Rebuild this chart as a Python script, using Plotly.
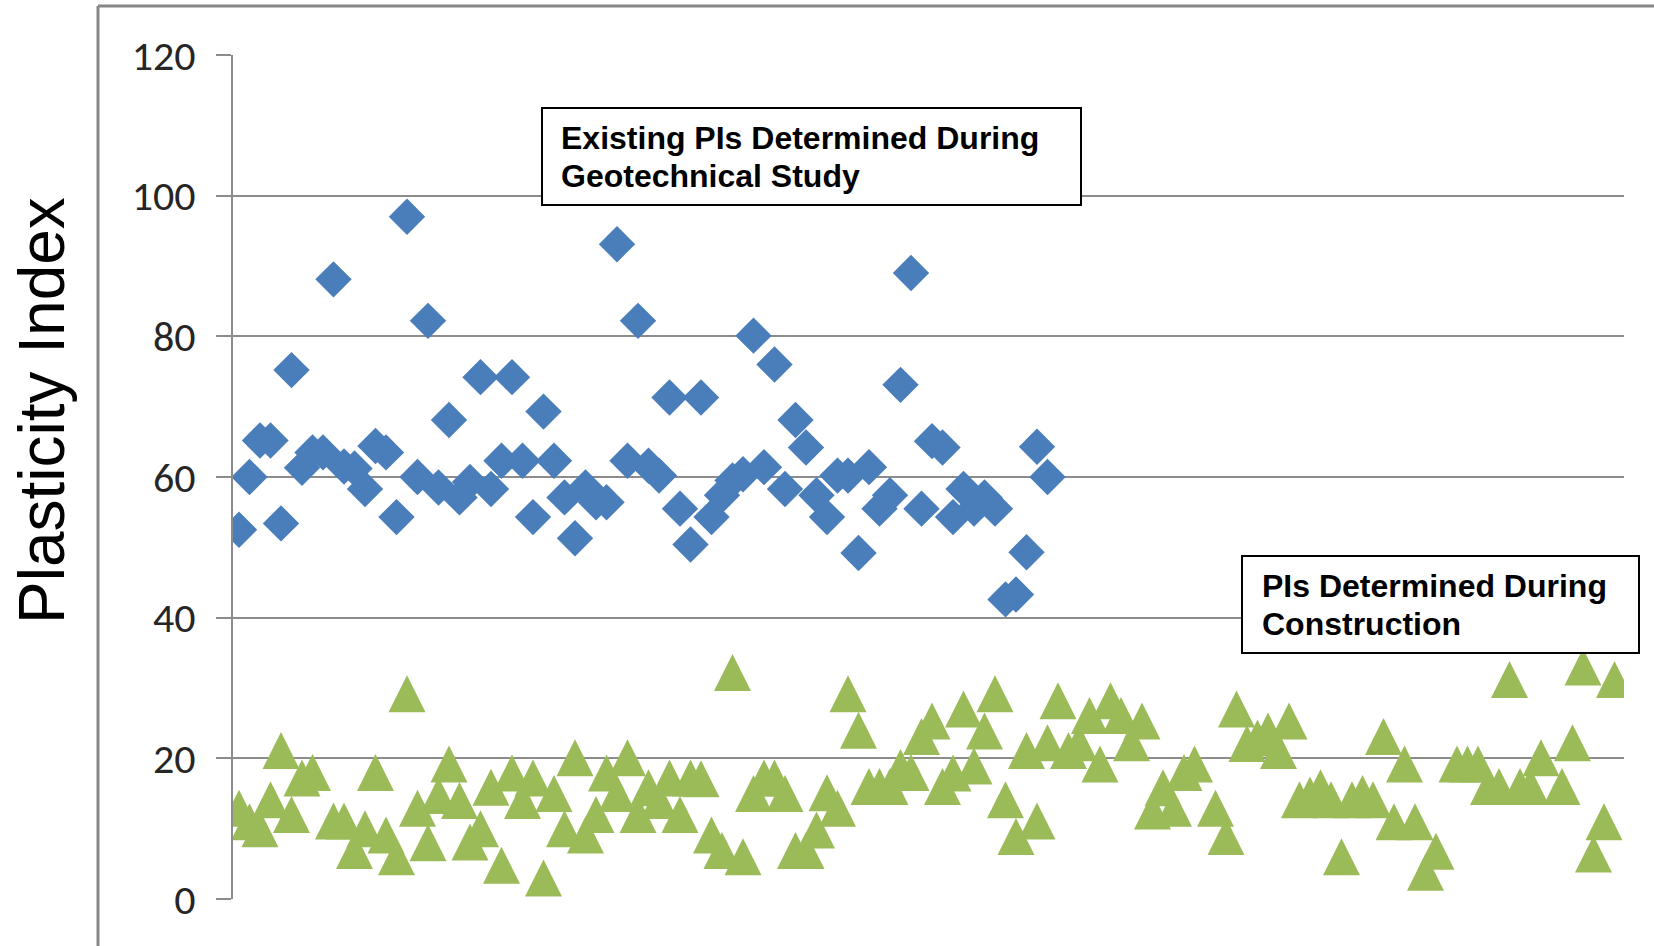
import plotly.graph_objects as go

# ---- data -----------------------------------------------------------------
# Plasticity index of samples from the geotechnical study (sample no. 1-78)
study_sample = list(range(1, 79))
study_pi = [52.5, 60.0, 65.2, 65.2, 53.4, 75.2, 61.3, 63.5, 63.5, 88.1,
            61.5, 61.2, 58.3, 64.4, 63.5, 54.3, 97.0, 60.0, 82.2, 58.5,
            68.1, 57.1, 59.3, 74.2, 58.3, 62.3, 74.2, 62.3, 54.3, 69.3,
            62.3, 57.1, 51.3, 58.5, 56.4, 56.4, 93.1, 62.3, 82.2, 61.6,
            60.2, 71.3, 55.5, 50.4, 71.3, 54.3, 57.4, 59.5, 60.4, 80.1,
            61.4, 76.0, 58.3, 68.1, 64.2, 57.4, 54.3, 60.2, 60.2, 49.2,
            61.4, 55.5, 57.4, 73.1, 89.0, 55.5, 65.1, 64.2, 54.3, 58.3,
            55.5, 57.1, 55.5, 42.6, 43.3, 49.3, 64.3, 60.0]

# Plasticity index of samples tested during construction
construction_sample = (list(range(1, 9)) + list(range(10, 93)) +
                       list(range(94, 116)) + list(range(117, 126)) +
                       list(range(127, 133)))
construction_pi = [12.9, 11.0, 10.0, 14.1, 21.1, 12.0, 17.2, 18.0,
                   11.1, 11.1, 6.9, 10.0, 18.0, 9.1, 6.0, 29.2, 12.9, 8.0,
                   14.7, 19.2, 14.0, 8.1, 10.0, 15.9, 4.8, 17.9, 14.0, 17.2,
                   3.0, 15.0, 10.0, 20.1, 9.1, 12.0, 17.9, 15.0, 20.1, 12.0,
                   15.8, 14.0, 17.2, 12.0, 17.2, 17.1, 9.1, 6.9, 32.2, 6.0,
                   15.0, 17.2, 17.2, 15.0, 6.9, 6.9, 9.8, 15.1, 12.9, 29.2,
                   24.0, 16.0, 16.0, 16.0, 18.7, 18.0, 23.1, 25.3, 16.0, 17.9,
                   27.0, 18.9, 23.9, 29.2, 14.1, 8.9, 21.1, 11.1, 22.2, 28.2,
                   21.1, 22.2, 26.1, 19.2, 28.2, 26.1, 22.2, 25.3, 12.5, 15.8,
                   12.9, 18.0, 19.2,
                   12.9, 8.9, 27.0, 22.1, 22.9, 23.9, 21.1, 25.3, 14.1, 14.8,
                   15.8, 14.1, 6.0, 14.1, 15.0, 14.1, 23.1, 11.0, 19.2, 11.0,
                   3.8, 6.8,
                   19.2, 19.2, 19.2, 16.0, 16.0, 31.2, 16.0, 16.0, 20.1,
                   16.0, 22.2, 33.0, 6.4, 11.0, 31.2]

y_ticks = [0, 20, 40, 60, 80, 100, 120]
y_title = "Plasticity Index"
study_label = ["Existing PIs Determined During", "Geotechnical Study"]
construction_label = ["PIs Determined During", "Construction"]

# ---- page geometry (pixels) ----------------------------------------------
W, H = 1654, 946
L, R, T, B = 233, 30, 55, 47
PW, PH = W - L - R, H - T - B


def px(x):
    return (x - L) / PW


def py(y):
    return (H - B - y) / PH


GRID = "#8c8c8c"
BLUE = "#4a7ebb"
GREEN = "#9bbb59"
TEXT_FONT = "Liberation Sans, Arial, sans-serif"
TICK_FONT = "Calibri, Carlito, Lato, sans-serif"

fig = go.Figure()

fig.add_trace(go.Scatter(
    x=study_sample, y=study_pi, mode="markers", name="Geotechnical study",
    marker=dict(symbol="diamond", size=28, color=BLUE, line=dict(width=0)),
))

# upright triangles as tall as they are wide: a flipped arrow centred on the point
fig.add_trace(go.Scatter(
    x=construction_sample, y=construction_pi, mode="markers",
    name="Construction",
    marker=dict(symbol="arrow-down", size=37, angle=180, standoff=18.5,
                color=GREEN, line=dict(width=0)),
))

fig.update_xaxes(range=[1 - 6 / 10.5, 1 + (W - R - 239) / 10.5],
                 visible=False, showgrid=False, zeroline=False)
fig.update_yaxes(range=[0, 120], tickvals=y_ticks,
                 showgrid=True, gridcolor=GRID, gridwidth=2,
                 showline=True, linecolor=GRID, linewidth=2,
                 ticks="outside", ticklen=15, tickwidth=2, tickcolor=GRID,
                 ticklabelstandoff=12,
                 tickfont=dict(family=TICK_FONT, size=42, color="#262626"),
                 zeroline=False)

shapes = [
    # outer frame of the chart area
    dict(type="line", xref="paper", yref="paper",
         x0=px(98), x1=px(98), y0=py(6), y1=py(960),
         line=dict(color="#888888", width=3), layer="above"),
    dict(type="line", xref="paper", yref="paper",
         x0=px(98), x1=px(1670), y0=py(6), y1=py(6),
         line=dict(color="#888888", width=3), layer="above"),
    # label boxes
    dict(type="rect", xref="paper", yref="paper",
         x0=px(542), x1=px(1081), y0=py(205), y1=py(108),
         fillcolor="white", line=dict(color="black", width=2), layer="above"),
    dict(type="rect", xref="paper", yref="paper",
         x0=px(1242), x1=px(1639), y0=py(653), y1=py(556),
         fillcolor="white", line=dict(color="black", width=2), layer="above"),
]

annotations = [
    dict(text=y_title, textangle=-90, x=px(42), y=py(411),
         xref="paper", yref="paper", xanchor="center", yanchor="middle",
         showarrow=False, font=dict(family=TEXT_FONT, size=64, color="black")),
]
for text, x, y in [(study_label[0], 559, 138), (study_label[1], 559, 176),
                   (construction_label[0], 1260, 586),
                   (construction_label[1], 1260, 624)]:
    annotations.append(dict(
        text="<b>" + text + "</b>", x=px(x), y=py(y),
        xref="paper", yref="paper", xanchor="left", yanchor="middle",
        showarrow=False, font=dict(family=TEXT_FONT, size=32, color="black")))

fig.update_layout(
    width=W, height=H, autosize=False,
    margin=dict(l=L, r=R, t=T, b=B, pad=0),
    paper_bgcolor="white", plot_bgcolor="white",
    showlegend=False, shapes=shapes, annotations=annotations,
)

fig.write_html("out.html")
